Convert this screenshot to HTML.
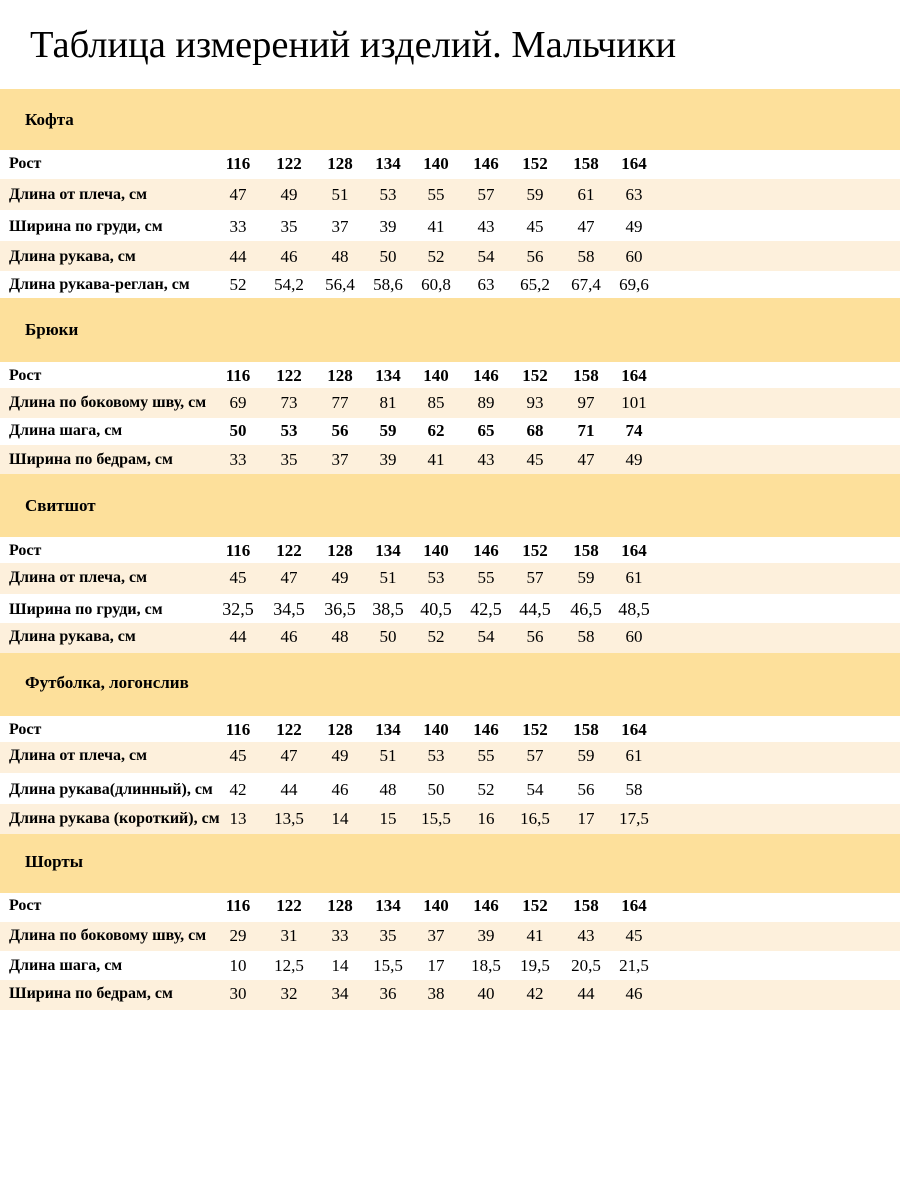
<!DOCTYPE html>
<html><head><meta charset="utf-8"><style>
body{margin:0;width:900px;height:1200px;background:#fff;position:relative;font-family:"Liberation Serif",serif;color:#000;overflow:hidden}
h1{position:absolute;left:30px;top:22px;margin:0;font-weight:normal;font-size:38.5px;line-height:46px}
.b{position:absolute;left:0;width:900px;background:#fde09b}
.b span{position:absolute;left:25px;font-weight:bold;font-size:17px}
.r{position:absolute;left:0;width:900px;font-size:17px}
.l{background:#fdf0dc}
.r>span{position:absolute;top:0;width:44px;text-align:center}
.r>.t{left:9px;width:auto;text-align:left;font-weight:bold;font-size:16px}
.h>span{font-weight:bold}
.r>span:nth-child(2){left:216px}.r>span:nth-child(3){left:267px}.r>span:nth-child(4){left:318px}
.r>span:nth-child(5){left:366px}.r>span:nth-child(6){left:414px}.r>span:nth-child(7){left:464px}
.r>span:nth-child(8){left:513px}.r>span:nth-child(9){left:564px}.r>span:nth-child(10){left:612px}
</style></head><body>
<h1>Таблица измерений изделий. Мальчики</h1>

<div class="b" style="top:89px;height:61px"><span style="top:21px">Кофта</span></div>
<div class="r h" style="top:150px;height:29px;line-height:27px"><span class="t">Рост</span><span>116</span><span>122</span><span>128</span><span>134</span><span>140</span><span>146</span><span>152</span><span>158</span><span>164</span></div>
<div class="r l" style="top:179px;height:31px;line-height:31px"><span class="t">Длина от плеча, см</span><span>47</span><span>49</span><span>51</span><span>53</span><span>55</span><span>57</span><span>59</span><span>61</span><span>63</span></div>
<div class="r" style="top:210px;height:31px;line-height:33px"><span class="t">Ширина по груди, см</span><span>33</span><span>35</span><span>37</span><span>39</span><span>41</span><span>43</span><span>45</span><span>47</span><span>49</span></div>
<div class="r l" style="top:241px;height:30px;line-height:31px"><span class="t">Длина рукава, см</span><span>44</span><span>46</span><span>48</span><span>50</span><span>52</span><span>54</span><span>56</span><span>58</span><span>60</span></div>
<div class="r" style="top:271px;height:27px;line-height:27px"><span class="t">Длина рукава-реглан, см</span><span>52</span><span>54,2</span><span>56,4</span><span>58,6</span><span>60,8</span><span>63</span><span>65,2</span><span>67,4</span><span>69,6</span></div>

<div class="b" style="top:298px;height:64px"><span style="top:22px">Брюки</span></div>
<div class="r h" style="top:362px;height:26px;line-height:28px"><span class="t">Рост</span><span>116</span><span>122</span><span>128</span><span>134</span><span>140</span><span>146</span><span>152</span><span>158</span><span>164</span></div>
<div class="r l" style="top:388px;height:30px;line-height:30px"><span class="t">Длина по боковому шву, см</span><span>69</span><span>73</span><span>77</span><span>81</span><span>85</span><span>89</span><span>93</span><span>97</span><span>101</span></div>
<div class="r h" style="top:418px;height:27px;line-height:25px"><span class="t">Длина шага, см</span><span>50</span><span>53</span><span>56</span><span>59</span><span>62</span><span>65</span><span>68</span><span>71</span><span>74</span></div>
<div class="r l" style="top:445px;height:29px;line-height:29px"><span class="t">Ширина по бедрам, см</span><span>33</span><span>35</span><span>37</span><span>39</span><span>41</span><span>43</span><span>45</span><span>47</span><span>49</span></div>

<div class="b" style="top:474px;height:63px"><span style="top:22px">Свитшот</span></div>
<div class="r h" style="top:537px;height:26px;line-height:27px"><span class="t">Рост</span><span>116</span><span>122</span><span>128</span><span>134</span><span>140</span><span>146</span><span>152</span><span>158</span><span>164</span></div>
<div class="r l" style="top:563px;height:31px;line-height:29px"><span class="t">Длина от плеча, см</span><span>45</span><span>47</span><span>49</span><span>51</span><span>53</span><span>55</span><span>57</span><span>59</span><span>61</span></div>
<div class="r" style="top:594px;height:29px;line-height:31px;font-size:18px"><span class="t">Ширина по груди, см</span><span>32,5</span><span>34,5</span><span>36,5</span><span>38,5</span><span>40,5</span><span>42,5</span><span>44,5</span><span>46,5</span><span>48,5</span></div>
<div class="r l" style="top:623px;height:30px;line-height:28px"><span class="t">Длина рукава, см</span><span>44</span><span>46</span><span>48</span><span>50</span><span>52</span><span>54</span><span>56</span><span>58</span><span>60</span></div>

<div class="b" style="top:653px;height:63px"><span style="top:20px">Футболка, логонслив</span></div>
<div class="r h" style="top:716px;height:26px;line-height:27px"><span class="t">Рост</span><span>116</span><span>122</span><span>128</span><span>134</span><span>140</span><span>146</span><span>152</span><span>158</span><span>164</span></div>
<div class="r l" style="top:742px;height:31px;line-height:28px"><span class="t">Длина от плеча, см</span><span>45</span><span>47</span><span>49</span><span>51</span><span>53</span><span>55</span><span>57</span><span>59</span><span>61</span></div>
<div class="r" style="top:773px;height:31px;line-height:33px"><span class="t">Длина рукава(длинный), см</span><span>42</span><span>44</span><span>46</span><span>48</span><span>50</span><span>52</span><span>54</span><span>56</span><span>58</span></div>
<div class="r l" style="top:804px;height:30px;line-height:30px"><span class="t">Длина рукава (короткий), см</span><span>13</span><span>13,5</span><span>14</span><span>15</span><span>15,5</span><span>16</span><span>16,5</span><span>17</span><span>17,5</span></div>

<div class="b" style="top:834px;height:59px"><span style="top:18px">Шорты</span></div>
<div class="r h" style="top:893px;height:29px;line-height:26px"><span class="t">Рост</span><span>116</span><span>122</span><span>128</span><span>134</span><span>140</span><span>146</span><span>152</span><span>158</span><span>164</span></div>
<div class="r l" style="top:922px;height:29px;line-height:28px"><span class="t">Длина по боковому шву, см</span><span>29</span><span>31</span><span>33</span><span>35</span><span>37</span><span>39</span><span>41</span><span>43</span><span>45</span></div>
<div class="r" style="top:951px;height:29px;line-height:29px"><span class="t">Длина шага, см</span><span>10</span><span>12,5</span><span>14</span><span>15,5</span><span>17</span><span>18,5</span><span>19,5</span><span>20,5</span><span>21,5</span></div>
<div class="r l" style="top:980px;height:30px;line-height:28px"><span class="t">Ширина по бедрам, см</span><span>30</span><span>32</span><span>34</span><span>36</span><span>38</span><span>40</span><span>42</span><span>44</span><span>46</span></div>
</body></html>
